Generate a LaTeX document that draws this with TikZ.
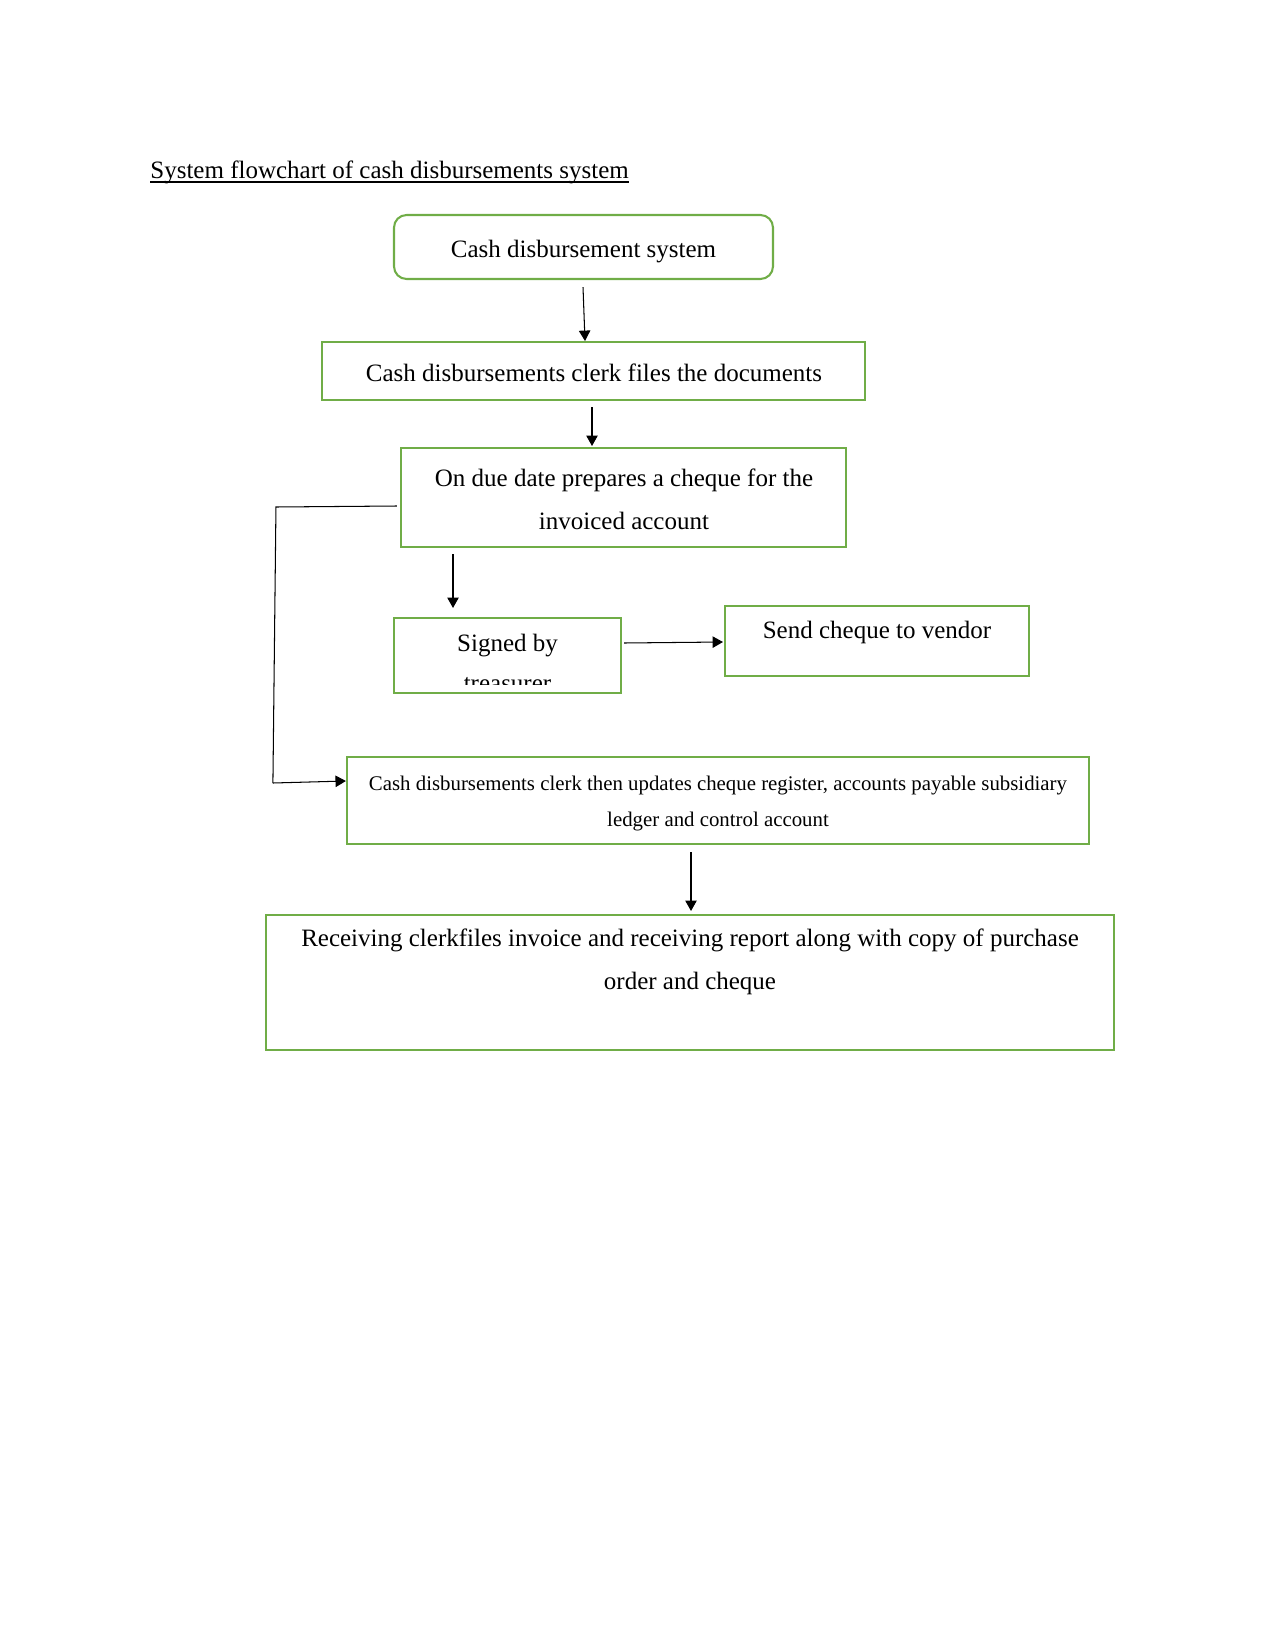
\documentclass[tikz,border=0pt]{standalone}
\usepackage{fontspec}
\setmainfont{Liberation Serif}
\usetikzlibrary{arrows.meta,calc}
\definecolor{boxgreen}{HTML}{70AD47}
\tikzset{
  box/.style={draw=boxgreen, line width=1pt, inner sep=0pt, fill=none},
  txt/.style={inner sep=0pt, align=center, font=\fontsize{12}{20.5}\selectfont},
  arr/.style={draw=black, line width=0.5pt, -{Triangle[length=5pt,width=5.5pt]}},
  link/.style={draw=black, line width=0.5pt}
}
\begin{document}
\begin{tikzpicture}[x=0.48pt,y=-0.48pt]
\useasboundingbox (0,0) rectangle (1275,1651);
% title
\node[inner sep=0pt, anchor=base west, font=\fontsize{12}{14}\selectfont] (title) at (150,178.5) {System flowchart of cash disbursements system};
\draw[line width=0.7pt] ($(title.base west)+(0,3.5)$) -- ($(title.base east)+(0,3.5)$);
% boxes
\node[box, rounded corners=6pt, minimum width=181.9pt, minimum height=30.7pt] (b1) at (583.5,247) {};
\node[box, minimum width=260.6pt, minimum height=27.8pt] (b2) at (593.5,371) {};
\node[box, minimum width=213.6pt, minimum height=47.5pt] (b3) at (623.5,497.5) {};
\node[box, minimum width=109pt, minimum height=36pt] (b4) at (507.5,655.5) {};
\node[box, minimum width=145.9pt, minimum height=33.6pt] (b5) at (877,641) {};
\node[box, minimum width=356.2pt, minimum height=41.8pt] (b6) at (718,800.5) {};
\node[box, minimum width=407pt, minimum height=64.8pt] (b7) at (690,982.5) {};
% texts (anchor=base is the baseline of the last line)
\node[txt, anchor=base] (t1) at (583.5,257) {Cash disbursement system};
\node[txt, anchor=base] (t2) at (594,381) {Cash disbursements clerk files the documents};
\node[txt, anchor=base] (t3) at (624,529.5) {On due date prepares a cheque for the\\invoiced account};
\begin{scope}
\clip (396,620) rectangle (619,684);
\node[txt, anchor=base, font=\fontsize{12}{19.2}\selectfont] (t4) at (507.5,691) {Signed by\\treasurer};
\end{scope}
\node[txt, anchor=base] (t5) at (877,638.5) {Send cheque to vendor};
\node[txt, anchor=base, font=\fontsize{10}{17.3}\selectfont] (t6) at (718,826.5) {Cash disbursements clerk then updates cheque register, accounts payable subsidiary\\ledger and control account};
\node[txt, anchor=base, font=\fontsize{12}{20.5}\selectfont] (t7) at (690,989.5) {Receiving clerkfiles invoice and receiving report along with copy of purchase\\order and cheque};
% connectors
\draw[arr] ($(b1.south)+(-0.5,7)$) -- ($(b2.north)+(-8.5,0)$);
\draw[arr] ($(b2.south)+(-1.5,6)$) -- ($(b3.north)+(-31.5,-1)$);
\draw[arr] ($(b3.south)+(-170.5,6)$) -- ($(b4.north)+(-54.5,-9)$);
\draw[arr] ($(b4.east)+(2,-12.5)$) -- ($(b5.west)+(-1,1)$);
\coordinate (c1) at ($(b3.west)+(-124,9.5)$);
\coordinate (c2) at ($(b6.west)+(-73,-17.5)$);
\draw[link] ($(b3.west)+(-3,8.5)$) -- (c1) -- (c2);
\draw[arr] (c2) -- ($(b6.west)+(0,-19.5)$);
\draw[arr] ($(b6.south)+(-27,7)$) -- ($(b7.north)+(1,-3)$);
\end{tikzpicture}
\end{document}
